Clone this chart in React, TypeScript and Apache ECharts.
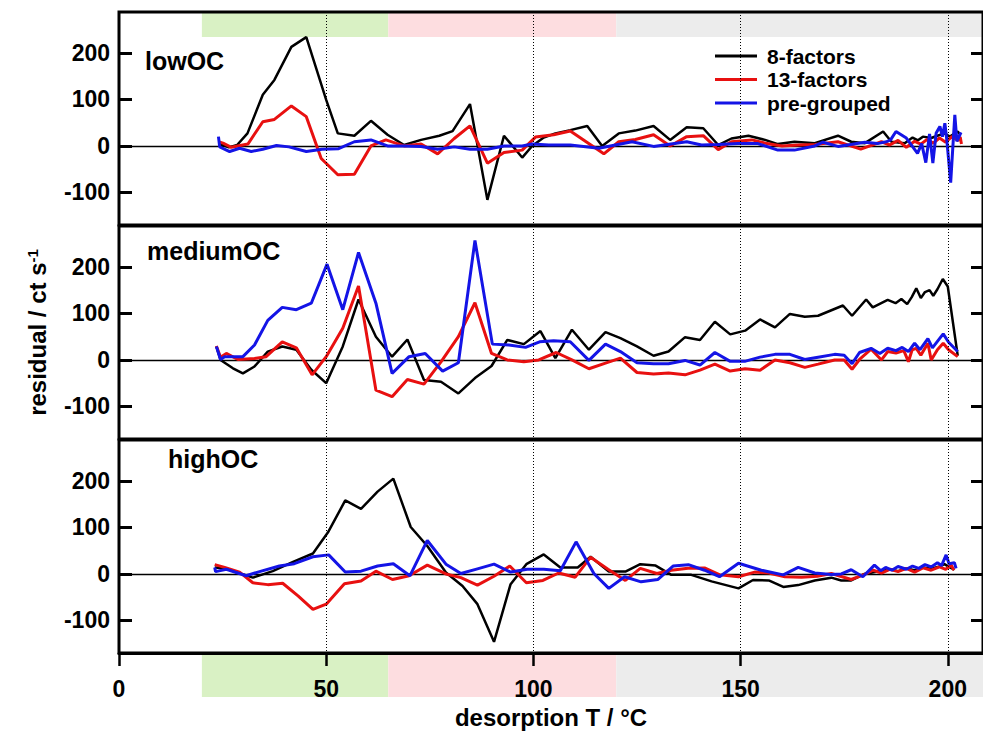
import React, { useEffect, useRef } from "react";
import * as echarts from "echarts";

const FONT = "'Liberation Sans', Arial, Helvetica, sans-serif";

// ---- data (desorption T in °C, residual in ct/s) ----
const seriesNames = ["8-factors", "13-factors", "pre-grouped"];
const panelNames = ["lowOC", "mediumOC", "highOC"];
const yTickValues = [-100, 0, 100, 200];
const bandRanges = [
  [20, 65],
  [65, 120],
  [120, 208.5],
];

const lowOC_8 = [
  [24, 5], [26.5, -3], [28.5, 2], [31, 27], [34.7, 110], [37.5, 142], [41.6, 213], [45.2, 234],
  [50, 99], [52.8, 27], [56.8, 22], [60.8, 54], [64.8, 24], [68.8, 2], [72.9, 13], [77.3, 22],
  [80.5, 32], [84.7, 90], [88.9, -116], [92.9, 22], [97.3, -25], [99.7, 0], [102.5, 18], [105.3, 27],
  [108.9, 34], [113, 43], [116.6, 0], [120.6, 27], [124.6, 33], [129, 43], [133, 13], [137, 40],
  [141, 38], [144.6, 2], [147.8, 16], [151.9, 22], [155.9, 13], [159, 4], [163, 9], [167.9, 6],
  [173.5, 22], [176.7, 9], [180, 6], [184.4, 31], [186.4, 9], [189.6, 6], [191.5, 18], [192.8, 12],
  [194, 20], [196, 17], [197.5, 22], [199.2, 27], [200.5, 20], [202.4, 31], [203, 24],
];
const lowOC_13 = [
  [24, 9], [25.1, 6], [27.1, -3], [31.1, 4], [34.7, 52], [37.5, 57], [41.6, 86], [45.2, 63],
  [48.8, -27], [52.8, -62], [56.8, -61], [60.8, 0], [64.4, 13], [68.8, 0], [72.9, 4], [76.9, -17],
  [80.9, 16], [84.7, 43], [88.9, -37], [92.9, -14], [97.3, -9], [100.5, 19], [104.9, 24], [108.9, 32],
  [117, -17], [120.6, 9], [124.6, 14], [129, 24], [133, 0], [137, 20], [141, 22], [144.6, -8],
  [147.8, 9], [152.7, 13], [156, 6], [160, 0], [164, 2], [168, 3], [173.5, 9], [179, -7],
  [184, 9], [186, 2], [188, 12], [190, -3], [192, 10], [193.5, 4], [195, 14], [196.5, 6],
  [198, 17], [199.5, 8], [201, 20], [202.5, 12], [203, 19], [203.3, 4],
];
const lowOC_pre = [
  [24, 20], [24.3, -2], [26.7, -12], [29.1, -5], [31.9, -12], [34.7, -7], [38, 1], [41, -2],
  [45.2, -12], [49, -7], [53, -6], [56.8, 9], [60.8, 13], [64.8, 0], [68.8, 0], [72.9, -1],
  [76.9, -7], [80.9, -2], [84.7, -7], [88.9, -7], [92.9, 0], [97.3, 0], [99.7, 4], [103.7, 2],
  [108.9, 2], [115.8, -5], [123.8, 9], [129, -1], [137, 9], [140.6, 2], [144.6, 3], [149.4, 5],
  [154.2, 5], [159, -9], [163, -9], [167.9, 0], [169.9, 8], [173.5, -1], [180, 8], [183, 5],
  [185.2, 9], [186.2, 13], [187.5, 31], [190, 17], [192.7, -16], [193.7, 5], [194.7, -36], [195.6, 26],
  [196.4, -37], [197.2, 28], [198.1, 42], [198.7, 20], [199.3, 49], [199.8, 10], [200.7, -79], [201.7, 67],
  [202.2, 10], [203.2, 29],
];

const mediumOC_8 = [
  [23.5, 29], [24.5, 0], [27.5, -18], [29.9, -29], [32.7, -14], [35.9, 18], [39.4, 29], [42.8, 22],
  [46.4, -21], [50, -50], [54, 29], [57.8, 130], [62, 50], [65.9, 7], [69.6, 44], [73.6, -43],
  [77.7, -47], [81.9, -72], [85.9, -39], [89.9, -13], [93.7, 43], [97.7, 34], [101.7, 62], [105.3, 4],
  [109.3, 65], [113.4, 22], [117.4, 60], [121, 47], [125, 29], [129, 9], [132.6, 18], [136.6, 49],
  [140.2, 43], [143.8, 82], [147.5, 55], [151.1, 63], [154.7, 87], [158.3, 70], [161.9, 99], [165.5, 93],
  [168.7, 95], [174.7, 117], [176.9, 95], [180.3, 130], [181.9, 113], [185.5, 129], [187.4, 122], [188.8, 131],
  [190.2, 120], [191.3, 135], [192.4, 154], [193.5, 133], [194.5, 146], [195.6, 150], [196.5, 138], [197.5, 152],
  [198.8, 174], [200, 158], [202.4, 9],
];
const mediumOC_13 = [
  [23.5, 30], [24.5, 6], [25.9, 14], [28.7, 1], [32.7, 3], [35.5, 7], [39.4, 39], [42.8, 26],
  [46.6, -32], [50, 7], [54, 68], [57.8, 159], [62, -65], [65.9, -79], [69.6, -42], [73.6, -52],
  [77.7, -4], [81.9, 50], [85.9, 123], [89.9, 14], [93.7, 0], [97.7, -4], [101.3, 0], [105.5, 16],
  [109.3, 0], [113.4, -19], [117.4, -7], [121, 4], [125, -27], [129, -30], [132.6, -28], [136.6, -32],
  [140.2, -22], [143.8, -9], [147.5, -24], [151.1, -19], [154.7, -22], [158.3, 0], [161.9, -6], [165.5, -16],
  [168.7, -9], [172.7, 0], [175, 0], [176.9, -20], [178.7, 1], [181.5, 23], [184, 0], [185.5, 18],
  [187.5, 15], [189.4, 20], [190.5, -4], [191.4, 22], [192.4, 25], [193.5, 10], [195.2, 36], [196, 0],
  [197.5, 22], [198.9, 36], [200.2, 22], [202.4, 7],
];
const mediumOC_pre = [
  [23.5, 29], [24.5, 1], [25.5, 7], [29.9, 7], [32.7, 32], [35.9, 85], [39.4, 113], [42.8, 108],
  [46.4, 122], [50.2, 206], [54, 108], [57.8, 231], [62, 122], [65.9, -29], [70, 7], [73.9, 14],
  [78.1, -24], [81.9, -6], [85.9, 257], [90.1, 34], [94.1, 32], [98.1, 27], [101.5, 39], [104.9, 41],
  [108.9, 39], [113.4, -1], [117.4, 34], [121, 18], [125, -6], [129, -8], [132.6, -8], [136.6, -1],
  [140.2, -11], [143.8, 16], [147.5, -3], [151, -3], [154.7, 6], [158.3, 12], [161.9, 12], [165.5, 1],
  [168.7, 6], [172.7, 12], [175, 10], [176.9, -8], [178.7, 16], [181.5, 25], [183.6, 14], [185.5, 25],
  [187.5, 20], [189, 27], [190.5, 18], [192, 36], [193.3, 22], [195.2, 46], [196.3, 26], [197.5, 40],
  [198.9, 56], [200.2, 38], [202.4, 18],
];

const highOC_8 = [
  [23.1, 14], [25.5, 12], [28.3, 4], [32.3, -8], [37.1, 6], [42, 26], [46.8, 44], [50.4, 89],
  [54.6, 158], [58.4, 140], [62.4, 177], [66.2, 205], [70.4, 101], [74.4, 60], [78.9, 3], [82.9, -26],
  [86.5, -65], [90.5, -146], [94.5, -22], [98.3, 21], [102.5, 42], [106.5, 14], [110.7, 14], [113.8, 37],
  [118.2, 5], [122.2, 5], [125.8, 21], [129.5, 18], [133.3, -2], [138.1, -2], [143, -16], [149.5, -31],
  [153, -13], [156.8, -14], [160.3, -28], [163.9, -24], [167.9, -14], [171.9, -8], [174.3, -14], [176.7, -14],
  [179.9, 0], [183.9, 7], [186, 10], [188, 6], [190, 12], [192, 8], [194, 14], [196, 11],
  [198, 16], [199.2, 21], [200.5, 14], [201.6, 9],
];
const highOC_13 = [
  [23.1, 20], [25.5, 14], [29.1, 4], [32.3, -19], [35.9, -23], [39.5, -20], [43.2, -47], [46.8, -76],
  [50, -65], [54.4, -21], [58.4, -15], [62, 6], [66, -12], [70, -4], [74.4, 19], [78.9, 0],
  [82.5, -8], [86.5, -24], [90.5, -5], [94.3, 17], [98.3, -19], [102.3, -14], [106.1, 2], [110.1, -7],
  [113.8, 36], [118, 10], [122.2, -14], [125.8, 12], [129.8, 1], [133.3, 8], [137.3, 12], [141.3, 13],
  [145, -2], [149.5, -6], [153.4, 4], [156.8, 2], [160.7, -6], [164.7, -7], [168.5, -5], [171.9, 1],
  [176.7, -12], [179.9, -1], [182, 8], [184, 2], [186, 10], [188, 5], [190, 12], [192, 4],
  [194, 13], [196, 8], [198, 15], [199.5, 10], [200.8, 19], [201.5, 8],
];
const highOC_pre = [
  [23.1, 14], [23.3, 5], [25.9, 10], [30.7, -4], [33.5, 4], [38.7, 17], [42.3, 22], [46.8, 37],
  [50.6, 41], [54.6, 4], [58.4, 6], [62.4, 17], [66.2, 22], [70.2, -4], [74.4, 72], [78.9, 21],
  [82.5, 1], [86.5, 11], [90.5, 21], [94.5, 4], [98.5, 10], [102.5, 10], [106.5, 7], [110.3, 69],
  [114.6, 1], [118.2, -31], [122, -6], [126, -17], [130, -12], [133.7, 17], [137.4, 20], [141.3, 8],
  [144.9, -6], [149.5, 23], [155, 8], [160.3, -2], [163.9, 14], [167.9, 2], [171.9, -1], [174.3, 0],
  [176.7, 9], [179.5, -6], [182.3, 19], [183.8, 7], [185, 14], [186.5, 8], [188, 16], [190, 10],
  [191.5, 17], [193, 12], [194.5, 20], [196, 15], [197.5, 24], [198.5, 18], [199.6, 41], [200.3, 22],
  [201.6, 24], [202, 12],
];

const panelData = [
  [lowOC_8, lowOC_13, lowOC_pre],
  [mediumOC_8, mediumOC_13, mediumOC_pre],
  [highOC_8, highOC_13, highOC_pre],
];

// ---- styling ----
const COLORS = ["#000000", "#e81010", "#1414e6"];
const WIDTHS = [2.5, 3, 3];
const BAND_COLORS = ["#d9f1c4", "#fddde0", "#ececec"];
const X_MAX = 208.5;
const Y_MIN = -170;
const Y_MAX = 288;
const PANEL_TOPS = [12, 226, 440];
const PANEL_H = 213;
const LEFT = 119;
const RIGHT = -3;
const TITLE_POS = [
  [145, 48],
  [147, 238],
  [168, 446],
];

function buildOption() {
  const grid: any[] = PANEL_TOPS.map((t) => ({
    left: LEFT,
    right: RIGHT,
    top: t,
    height: PANEL_H,
    show: true,
    borderColor: "#000",
    borderWidth: 3,
    backgroundColor: "transparent",
  }));
  grid.push({ left: LEFT, right: RIGHT, top: 654, height: 43, show: false });

  const xAxis: any[] = [0, 1, 2].map((i) => ({
    type: "value",
    gridIndex: i,
    min: 0,
    max: X_MAX,
    interval: 50,
    z: 10,
    axisLine: { show: i === 2, onZero: false, lineStyle: { color: "#000", width: 3 } },
    axisTick: {
      show: i === 2,
      inside: false,
      length: 13,
      lineStyle: { color: "#000", width: 2.5 },
    },
    axisLabel: {
      show: i === 2,
      color: "#000",
      fontFamily: FONT,
      fontWeight: "bold",
      fontSize: 23,
      margin: 24,
      showMaxLabel: false,
    },
    splitLine: { show: true, lineStyle: { color: "#000", width: 1, type: [1, 2] } },
    name: i === 2 ? "desorption T / °C" : "",
    nameLocation: "middle",
    nameGap: 52,
    nameTextStyle: { color: "#000", fontFamily: FONT, fontWeight: "bold", fontSize: 24 },
  }));
  xAxis.push({ type: "value", gridIndex: 3, min: 0, max: X_MAX, show: false });

  const yAxis: any[] = [];
  [0, 1, 2].forEach((i) => {
    yAxis.push({
      type: "value",
      gridIndex: i,
      position: "left",
      min: Y_MIN,
      max: Y_MAX,
      axisLine: { show: false, onZero: false },
      axisTick: {
        show: true,
        inside: true,
        length: 13,
        customValues: yTickValues,
        lineStyle: { color: "#000", width: 3 },
      },
      axisLabel: {
        show: true,
        customValues: yTickValues,
        color: "#000",
        fontFamily: FONT,
        fontWeight: "bold",
        fontSize: 23,
        margin: 9,
      },
      splitLine: { show: false },
      name: i === 1 ? "{a|residual / ct s}{b|-1}" : "",
      nameLocation: "middle",
      nameRotate: 90,
      nameGap: 70,
      nameTextStyle: {
        color: "#000",
        fontFamily: FONT,
        fontWeight: "bold",
        fontSize: 24,
        rich: {
          a: { color: "#000", fontFamily: FONT, fontWeight: "bold", fontSize: 24 },
          b: { color: "#000", fontFamily: FONT, fontWeight: "bold", fontSize: 15, verticalAlign: "top" },
        },
      },
    });
    yAxis.push({
      type: "value",
      gridIndex: i,
      position: "right",
      min: Y_MIN,
      max: Y_MAX,
      axisLine: { show: false, onZero: false },
      axisTick: {
        show: true,
        inside: true,
        length: 12,
        customValues: yTickValues,
        lineStyle: { color: "#000", width: 3 },
      },
      axisLabel: { show: false },
      splitLine: { show: false },
    });
  });
  yAxis.push({ type: "value", gridIndex: 3, min: 0, max: 1, show: false });

  const series: any[] = [];
  panelData.forEach((sets, p) => {
    sets.forEach((data, s) => {
      const ser: any = {
        name: seriesNames[s],
        type: "line",
        xAxisIndex: p,
        yAxisIndex: p * 2,
        data,
        symbol: "none",
        showSymbol: false,
        z: 3,
        lineStyle: { color: COLORS[s], width: WIDTHS[s] },
        itemStyle: { color: COLORS[s] },
        emphasis: { disabled: true },
      };
      if (s === 0) {
        ser.markLine = {
          silent: true,
          symbol: ["none", "none"],
          label: { show: false },
          lineStyle: { color: "#000", width: 1.3, type: "solid" },
          data: [{ yAxis: 0 }],
          z: 1,
        };
      }
      if (s === 0 && p === 0) {
        ser.markArea = {
          silent: true,
          z: -1,
          data: bandRanges.map((r, k) => [
            { xAxis: r[0], yAxis: 234, itemStyle: { color: BAND_COLORS[k] } },
            { xAxis: r[1], yAxis: Y_MAX },
          ]),
        };
      }
      series.push(ser);
    });
  });
  series.push({
    name: "bands",
    type: "line",
    xAxisIndex: 3,
    yAxisIndex: 6,
    data: [],
    markArea: {
      silent: true,
      z: -1,
      data: bandRanges.map((r, k) => [
        { xAxis: r[0], yAxis: 0, itemStyle: { color: BAND_COLORS[k] } },
        { xAxis: r[1], yAxis: 1 },
      ]),
    },
  });

  const title = panelNames.map((n, i) => ({
    text: n,
    left: TITLE_POS[i][0],
    top: TITLE_POS[i][1],
    padding: 0,
    textStyle: { color: "#000", fontFamily: FONT, fontWeight: "bold", fontSize: 25 },
  }));

  return {
    animation: false,
    backgroundColor: "#fff",
    title,
    legend: {
      data: seriesNames.map((n) => ({ name: n, icon: "rect" })),
      orient: "vertical",
      left: 715,
      top: 45,
      padding: 0,
      itemWidth: 42,
      itemHeight: 3,
      itemGap: 1.5,
      selectedMode: false,
      textStyle: {
        color: "#000",
        fontFamily: FONT,
        fontWeight: "bold",
        fontSize: 21,
        lineHeight: 22,
        padding: [0, 0, 0, 5],
      },
    },
    grid,
    xAxis,
    yAxis,
    series,
  };
}

export default function App() {
  const ref = useRef<HTMLDivElement>(null);
  useEffect(() => {
    if (!ref.current) return;
    const chart = echarts.init(ref.current, undefined, { renderer: "svg" });
    chart.setOption(buildOption() as any);
    return () => chart.dispose();
  }, []);
  return (
    <div
      ref={ref}
      style={{ position: "absolute", left: 0, top: 0, width: 983, height: 742, background: "#fff" }}
    />
  );
}
